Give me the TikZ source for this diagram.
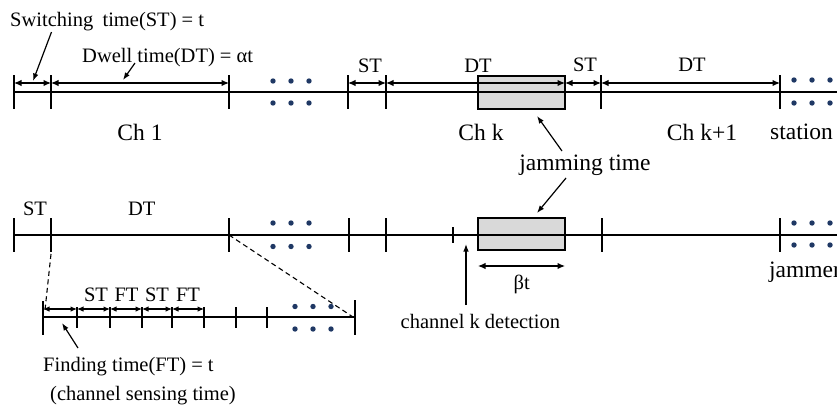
\documentclass[tikz,border=0pt]{standalone}
\usepackage{fontspec}
\setmainfont{Liberation Serif}
\usetikzlibrary{arrows.meta}
\definecolor{dotblue}{RGB}{31,56,100}
\definecolor{jamgray}{RGB}{217,217,217}

\tikzset{
  axisline/.style={line width=2.6pt},
  tickmark/.style={line width=2.8pt},
  dimarrow/.style={line width=1.2pt, {Latex[length=7.5pt,width=6.5pt]}-{Latex[length=7.5pt,width=6.5pt]}},
  smalldim/.style={line width=1.1pt, {Latex[length=6.5pt,width=5.5pt]}-{Latex[length=6.5pt,width=5.5pt]}},
  pointer/.style={line width=1.2pt, -{Latex[length=7.5pt,width=5.5pt]}},
  zoomline/.style={line width=1.1pt, dash pattern=on 5pt off 3.5pt},
  jambox/.style={line width=2.6pt},
  bigtext/.style={font=\fontsize{23.5}{26}\selectfont, inner sep=0pt},
  smalltext/.style={font=\fontsize{20.5}{23}\selectfont, inner sep=0pt},
}
% three dots above and three below a timeline, starting at x
\newcommand{\dotgroup}[3]{%
  \foreach \dx in {0,18,36} {
    \fill[dotblue] (#1+\dx,#2) circle (2.7);
    \fill[dotblue] (#1+\dx,#3) circle (2.7);
  }%
}

\begin{document}
\begin{tikzpicture}[x=1pt,y=-1pt]
\useasboundingbox (0,0) rectangle (837,405);
\clip (0,0) rectangle (837,405);

% ---------------- station timeline ----------------
\fill[jamgray] (478,76) rectangle (565,109);
\draw[axisline] (14,92) -- (837,92);
\draw[jambox] (478,76) rectangle (565,109);
\foreach \x in {14,51,229,348,386,601,780}
  \draw[tickmark] (\x,75) -- (\x,109);
\dotgroup{273}{81}{103}
\dotgroup{794}{80}{103}

\draw[dimarrow] (14,83) -- (51,83);
\draw[dimarrow] (51,83) -- (229,83);
\draw[dimarrow] (348,83) -- (386,83);
\draw[dimarrow] (386,83) -- (565,83);
\draw[dimarrow] (565,83) -- (601,83);
\draw[dimarrow] (601,83) -- (780,83);

\node[smalltext, anchor=base west] (swlabel) at (10,26) {Switching\hspace{0.2em} time(ST) = t};
\node[smalltext, anchor=base west] (dwlabel) at (82,62) {Dwell time(DT) = αt};
\node[smalltext, anchor=base] (st1) at (370,72) {ST};
\node[smalltext, anchor=base] (dt1) at (478,72) {DT};
\node[smalltext, anchor=base] (st2) at (585,71) {ST};
\node[smalltext, anchor=base] (dt2) at (692,71) {DT};

\node[bigtext, anchor=base] (ch1) at (140,140) {Ch 1};
\node[bigtext, anchor=base] (chk) at (481,140) {Ch k};
\node[bigtext, anchor=base] (chk1) at (702,140) {Ch k+1};
\node[bigtext, anchor=base west] (station) at (770,139) {station};
\node[bigtext, anchor=base] (jam) at (585,170) {jamming time};

\coordinate (swfrom) at (51.5,32);
\coordinate (swto) at (33,81);
\coordinate (dwfrom) at (135,63);
\coordinate (dwto) at (123,80);
\coordinate (jamup) at (562,151);
\coordinate (jamuptip) at (537,116);
\coordinate (jamdown) at (566,178);
\coordinate (jamdowntip) at (537,213);
\draw[pointer] (swfrom) -- (swto);
\draw[pointer] (dwfrom) -- (dwto);
\draw[pointer] (jamup) -- (jamuptip);
\draw[pointer] (jamdown) -- (jamdowntip);

% ---------------- jammer timeline ----------------
\fill[jamgray] (478,218) rectangle (565,250);
\draw[axisline] (14,235) -- (837,235);
\draw[jambox] (478,218) rectangle (565,250);
\foreach \x in {14,51,229,349,386,602,780}
  \draw[tickmark] (\x,218) -- (\x,252);
\draw[tickmark] (453,227) -- (453,243);
\dotgroup{273}{223}{246.5}
\dotgroup{794}{223}{245}

\node[smalltext, anchor=base] (st3) at (35,215) {ST};
\node[smalltext, anchor=base] (dt3) at (141.7,215) {DT};

\draw[dimarrow] (478,266) -- (565,266);
\node[smalltext, anchor=base] (beta) at (521.7,289) {βt};

\node[smalltext, anchor=base west] (detect) at (400.5,328) {channel k detection};
\coordinate (detfrom) at (466,305);
\coordinate (detto) at (466,244);
\draw[pointer] (detfrom) -- (detto);

\node[bigtext, anchor=base west] (jammer) at (769,277) {jammer};

% ---------------- magnified dwell interval ----------------
\draw[zoomline] (51,254) -- (45,310);
\draw[zoomline] (229,235) -- (353,317);

\draw[axisline] (43,317) -- (355,317);
\draw[tickmark] (43,301) -- (43,335);
\draw[tickmark] (355,300) -- (355,335);
\foreach \x in {77,110,142,172,204,236,267}
  \draw[tickmark] (\x,307) -- (\x,328);
\dotgroup{295}{306.5}{329}

\draw[smalldim] (43,309) -- (77,309);
\draw[smalldim] (77,309) -- (110,309);
\draw[smalldim] (110,309) -- (142,309);
\draw[smalldim] (142,309) -- (172,309);
\draw[smalldim] (172,309) -- (204,309);

\node[smalltext, anchor=base] (sst1) at (96,301) {ST};
\node[smalltext, anchor=base] (sft1) at (126.5,301) {FT};
\node[smalltext, anchor=base] (sst2) at (157,301) {ST};
\node[smalltext, anchor=base] (sft2) at (188,301) {FT};

\node[smalltext, anchor=base west] (finding) at (43,371) {Finding time(FT) = t};
\node[smalltext, anchor=base west] (sensing) at (50,400) {(channel sensing time)};
\coordinate (fdfrom) at (78,348);
\coordinate (fdto) at (62,323);
\draw[pointer] (fdfrom) -- (fdto);
\end{tikzpicture}
\end{document}
